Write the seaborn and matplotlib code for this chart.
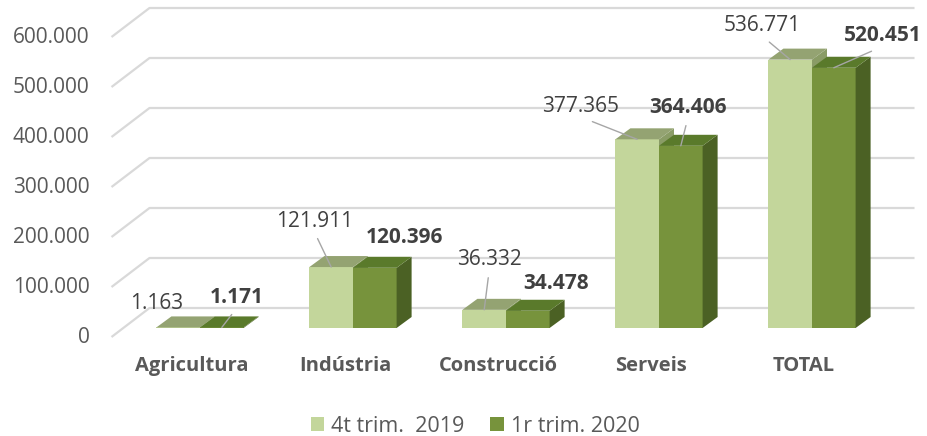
import matplotlib
matplotlib.use('Agg')
import matplotlib.pyplot as plt
from matplotlib.patches import Polygon, Patch
import seaborn as sns
import pandas as pd

# Data
categories = ['Agricultura', 'Indústria', 'Construcció', 'Serveis', 'TOTAL']
series_names = ['4t trim.  2019', '1r trim. 2020']
values_2019 = [1163, 121911, 36332, 377365, 536771]
values_2020 = [1171, 120396, 34478, 364406, 520451]
y_ticks = [0, 100000, 200000, 300000, 400000, 500000, 600000]

# Style
front_colors = ['#c3d69b', '#77933c']
top_colors = ['#94a372', '#5a7a2b']
side_colors = ['#8a9c66', '#4b6124']
text_grey = '#595959'
label_grey = '#404040'
grid_grey = '#d9d9d9'
FONT = 'Open Sans'
FS = 15

# 3D offsets in pixels (right, up)
BAR_DEPTH = (15, 11)
FRONT_PLANE = (-12, -9)
BACK_PLANE = (26, 20)

# per label text offsets in pixels and whether a leader line is drawn
offsets = [
    [(-22, 24), (-17, 46), (5, 50), (-57, 33), (-28, 34)],
    [(15, 30), (30, 30), (28, 27), (7, 38), (49, 32)],
]
leaders = [
    [False, True, True, True, True],
    [True, False, False, True, True],
]

df = pd.DataFrame({
    'categoria': categories * 2,
    'periode': [series_names[0]] * 5 + [series_names[1]] * 5,
    'valor': values_2019 + values_2020,
})

sns.set_style('white')
plt.rcParams['font.family'] = [FONT, 'DejaVu Sans']

fig = plt.figure(figsize=(9.27, 4.36), dpi=100)
ax = fig.add_axes([0, 0, 1, 1])
sns.barplot(data=df, x='categoria', y='valor', hue='periode', palette=front_colors,
            width=0.57, saturation=1, linewidth=0, legend=False, ax=ax, zorder=3)
ax.set_xlim(-200 / 153, 727 / 153)
ax.set_ylim(-216000, 656000)
ax.axis('off')


def px(dx, dy):
    inv = ax.transData.inverted()
    (x0, y0), (x1, y1) = inv.transform([(0, 0), (dx, dy)])
    return x1 - x0, y1 - y0


ddx, ddy = px(*BAR_DEPTH)
fdx, fdy = px(*FRONT_PLANE)
bdx, bdy = px(*BACK_PLANE)

# back wall gridlines
for v in y_ticks:
    ax.plot([-0.5 + fdx, -0.5 + bdx, 4.5 + bdx], [v + fdy, v + bdy, v + bdy],
            color=grid_grey, lw=1.6, zorder=1, solid_capstyle='butt')
    ax.annotate(f'{v:,}'.replace(',', '.'), xy=(-0.5, v), xytext=(FRONT_PLANE[0] - 22, FRONT_PLANE[1]),
                textcoords='offset pixels', ha='right', va='center', fontsize=FS, color=text_grey)

# 3D faces and data labels
for si, cont in enumerate(ax.containers):
    for ci, bar in enumerate(cont):
        x0, w, h = bar.get_x(), bar.get_width(), bar.get_height()
        top = Polygon([(x0, h), (x0 + w, h), (x0 + w + ddx, h + ddy), (x0 + ddx, h + ddy)],
                      closed=True, facecolor=top_colors[si], edgecolor='none', zorder=3)
        side = Polygon([(x0 + w, 0), (x0 + w + ddx, ddy), (x0 + w + ddx, h + ddy), (x0 + w, h)],
                       closed=True, facecolor=side_colors[si], edgecolor='none',
                       zorder=2 if si == 0 else 3)
        ax.add_patch(side)
        ax.add_patch(top)
        txt = f'{int(h):,}'.replace(',', '.')
        arrow = None
        if leaders[si][ci]:
            arrow = dict(arrowstyle='-', color='#a6a6a6', lw=1, relpos=(0.5, 0),
                         shrinkA=3, shrinkB=0)
        ax.annotate(txt, xy=(x0 + w / 2, h), xytext=offsets[si][ci], textcoords='offset pixels',
                    ha='center', va='center', fontsize=FS, color=label_grey,
                    fontweight='bold' if si == 1 else 'normal', arrowprops=arrow, zorder=5)

# category labels
for i, cat in enumerate(categories):
    ax.annotate(cat, xy=(i, 0), xytext=(-8, -38), textcoords='offset pixels',
                ha='center', va='center', fontsize=FS - 0.5, fontweight='bold', color=text_grey)

handles = [Patch(facecolor=c, edgecolor='none') for c in front_colors]
fig.legend(handles, series_names, loc='center', bbox_to_anchor=(475 / 927, 10 / 436), ncol=2,
           frameon=False, fontsize=FS + 0.5, labelcolor=text_grey, handlelength=0.65,
           handleheight=0.65, handletextpad=0.3, columnspacing=1.2)

fig.savefig('out.png', dpi=100)
